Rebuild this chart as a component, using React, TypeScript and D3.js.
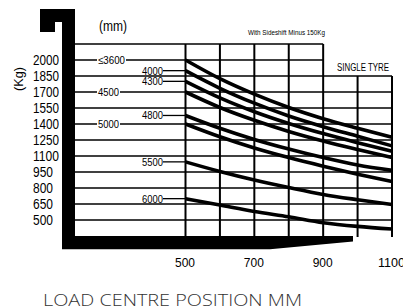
import * as d3 from 'd3'

// load chart values
const yTicks = [2000, 1850, 1700, 1550, 1400, 1250, 1100, 950, 800, 650, 500]
const xTicks = [500, 700, 900, 1100]
const xGrid = [500, 600, 700, 800, 900, 1000, 1100]
const centres = [500, 600, 700, 800, 900, 1000, 1100]

const mastHeights = ['≤3600', '4000', '4300', '4500', '4800', '5000', '5500', '6000']
const cap3600 = [2000, 1825, 1680, 1555, 1450, 1360, 1275]
const cap4000 = [1900, 1735, 1595, 1475, 1375, 1285, 1195]
const cap4300 = [1800, 1645, 1515, 1405, 1310, 1225, 1145]
const cap4500 = [1700, 1555, 1435, 1330, 1240, 1160, 1085]
const cap4800 = [1480, 1360, 1255, 1165, 1085, 1015, 965]
const cap5000 = [1400, 1280, 1175, 1085, 1005, 930, 860]
const cap5500 = [1045, 955, 875, 805, 740, 690, 645]
const cap6000 = [700, 640, 580, 530, 475, 440, 415]
const capacities = [cap3600, cap4000, cap4300, cap4500, cap4800, cap5000, cap5500, cap6000]

const W = 403
const H = 308
const narrow = "'Liberation Sans Narrow', 'Arial Narrow', 'Liberation Sans', Arial, sans-serif"

const App = () => {
  const x = d3.scaleLinear().domain([500, 1100]).range([185.5, 392])
  const y = d3.scaleLinear().domain([500, 2000]).range([220, 60])
  const barRight = 75
  const gridTop = y(2150)
  const gridBottom = y(350)

  const line = d3
    .line<number>()
    .x((_, i) => x(centres[i]))
    .y((d) => y(d))
    .curve(d3.curveMonotoneX)

  return (
    <svg width={W} height={H} style={{ position: 'absolute', left: 0, top: 0, background: '#fff' }}>
      {/* horizontal grid */}
      <line x1={barRight} x2={x(900)} y1={gridTop} y2={gridTop} stroke="#000" strokeWidth={1.5} />
      {yTicks.map((t) => (
        <line
          key={'h' + t}
          x1={barRight}
          x2={t > 1850 ? x(900) : x(1100)}
          y1={y(t)}
          y2={y(t)}
          stroke="#000"
          strokeWidth={1.5}
        />
      ))}
      {/* vertical grid */}
      {xGrid.map((v) => (
        <line
          key={'v' + v}
          x1={x(v)}
          x2={x(v)}
          y1={v > 900 ? y(1850) : gridTop}
          y2={gridBottom + 1}
          stroke="#000"
          strokeWidth={2}
        />
      ))}

      {/* curves */}
      {capacities.map((vals, i) => (
        <path key={'c' + i} d={line(vals) ?? ''} fill="none" stroke="#000" strokeWidth={3.6} />
      ))}

      {/* mast height labels */}
      {capacities.map((vals, i) => {
        const yy = y(vals[0])
        const inline = yTicks.includes(vals[0])
        const label = mastHeights[i]
        const w = label.length > 4 ? 27 : 21
        if (inline) {
          return (
            <g key={'l' + i}>
              <rect x={97} y={yy - 4} width={w + 2} height={8} fill="#fff" />
              <text x={98} y={yy + 4} fontSize={11} fontFamily={narrow} textLength={w} lengthAdjust="spacingAndGlyphs">
                {label}
              </text>
            </g>
          )
        }
        return (
          <g key={'l' + i}>
            <text x={163} y={yy + 4} fontSize={11} fontFamily={narrow} textAnchor="end" textLength={w} lengthAdjust="spacingAndGlyphs">
              {label}
            </text>
            <line x1={163} x2={x(500)} y1={yy} y2={yy} stroke="#000" strokeWidth={1.3} />
          </g>
        )
      })}

      {/* truck silhouette: mast and fork */}
      <path d={`M40,9 H${barRight} V249 H62 V22 H55 V32 H40 Z`} fill="#000" />
      <path d="M62,236 H353 V241.5 L270,249.3 H62 Z" fill="#000" />

      {/* y tick labels */}
      {yTicks.map((t) => (
        <text
          key={'yt' + t}
          x={33}
          y={y(t) + 5}
          fontSize={14}
          fontFamily={narrow}
          textLength={String(t).length === 4 ? 26 : 20}
          lengthAdjust="spacingAndGlyphs"
        >
          {t}
        </text>
      ))}

      {/* x tick labels */}
      {xTicks.map((v) => (
        <text
          key={'xt' + v}
          x={x(v) - 0.5}
          y={267}
          fontSize={13.5}
          fontFamily={narrow}
          textAnchor="middle"
          textLength={String(v).length === 4 ? 27 : 20}
          lengthAdjust="spacingAndGlyphs"
        >
          {v}
        </text>
      ))}

      <text x={99} y={31} fontSize={14} fontFamily={narrow} textLength={28} lengthAdjust="spacingAndGlyphs">
        (mm)
      </text>
      <text
        transform="translate(23,79) rotate(-90)"
        fontSize={13}
        fontFamily={narrow}
        textAnchor="middle"
        textLength={24}
        lengthAdjust="spacingAndGlyphs"
      >
        (Kg)
      </text>
      <text x={248} y={34.5} fontSize={7} fontFamily={narrow} textLength={77} lengthAdjust="spacingAndGlyphs">
        With Sideshift Minus 150Kg
      </text>
      <text x={337} y={70.5} fontSize={10} fontFamily={narrow} textLength={52} lengthAdjust="spacingAndGlyphs">
        SINGLE  TYRE
      </text>
      <text
        x={43}
        y={306}
        fontSize={17}
        fontWeight={300}
        fontFamily="'Open Sans', 'Noto Sans', sans-serif"
        fill="#333"
        textLength={259}
        lengthAdjust="spacingAndGlyphs"
      >
        LOAD CENTRE POSITION MM
      </text>
    </svg>
  )
}

export default App
